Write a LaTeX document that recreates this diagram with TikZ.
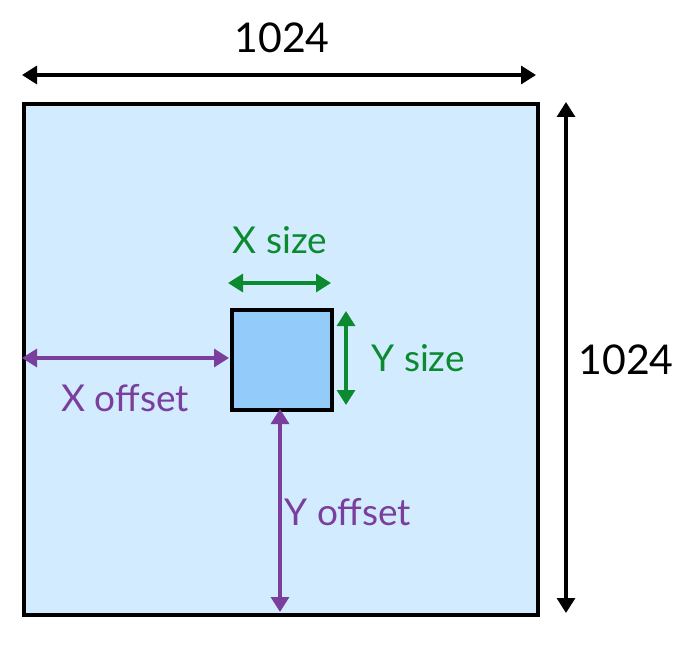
\documentclass[tikz,border=0pt]{standalone}
\usepackage{fontspec}
\setmainfont{Lato}
\usetikzlibrary{arrows.meta}
\definecolor{bgblue}{HTML}{D2EBFE}
\definecolor{boxblue}{HTML}{93CBFB}
\definecolor{dimgreen}{HTML}{0B8A30}
\definecolor{dimpurple}{HTML}{7A3F9D}
\tikzset{
  dimarrow/.style={line width=3.2pt,{Triangle[length=15pt,width=18pt]}-{Triangle[length=15pt,width=18pt]}},
  bigtext/.style={font=\fontsize{41}{48}\selectfont},
  labtext/.style={font=\fontsize{37}{42}\selectfont},
}
\begin{document}
\begin{tikzpicture}[x=1pt,y=-1pt]
\useasboundingbox (0,0) rectangle (685,647);
% big canvas
\node[draw=black,line width=4pt,fill=bgblue,minimum width=514pt,minimum height=511pt,inner sep=0pt,anchor=north west] (canvas) at (22,102) {};
% small tile
\node[draw=black,line width=4pt,fill=boxblue,minimum width=100pt,minimum height=100pt,inner sep=0pt,anchor=north west] (tile) at (230,308) {};
% top 1024
\coordinate (tl) at (22,75);
\coordinate (tr) at (536,75);
\draw[dimarrow,black] (tl) -- (tr);
\node[bigtext] (wlab) at (282,38) {1024};
% right 1024
\coordinate (rt) at (566,102);
\coordinate (rb) at (566,613);
\draw[dimarrow,black] (rt) -- (rb);
\node[bigtext] (hlab) at (626,360) {1024};
% X size
\coordinate (xs1) at (228,283);
\coordinate (xs2) at (331,283);
\draw[dimarrow,dimgreen] (xs1) -- (xs2);
\node[labtext,text=dimgreen] (xslab) at (280,240) {X size};
% Y size
\coordinate (ys1) at (346,311);
\coordinate (ys2) at (346,405);
\draw[dimarrow,dimgreen] (ys1) -- (ys2);
\node[labtext,text=dimgreen,anchor=west] (yslab) at (368,358) {Y size};
% X offset
\coordinate (xo1) at (22,358);
\coordinate (xo2) at (229,358);
\draw[dimarrow,dimpurple] (xo1) -- (xo2);
\node[labtext,text=dimpurple] (xolab) at (125,398) {X offset};
% Y offset
\coordinate (yo1) at (280,409);
\coordinate (yo2) at (280,612);
\draw[dimarrow,dimpurple] (yo1) -- (yo2);
\node[labtext,text=dimpurple,anchor=west] (yolab) at (281,512) {Y offset};
\end{tikzpicture}
\end{document}
